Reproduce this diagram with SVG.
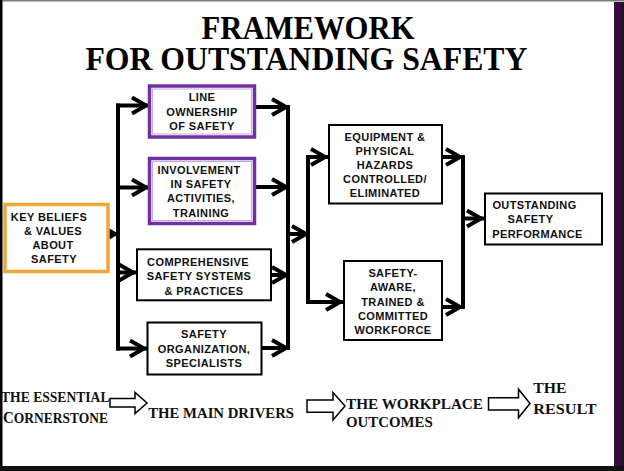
<svg xmlns="http://www.w3.org/2000/svg" width="624" height="471" viewBox="0 0 624 471">
<style>
.nt{font-family:"Liberation Sans",Arial,sans-serif;font-weight:bold;font-size:11px;letter-spacing:0.4px;fill:#111;text-anchor:middle}
.ti{font-family:"Liberation Serif","Times New Roman",serif;font-weight:bold;font-size:33px;fill:#000}
.bt{font-family:"Liberation Serif","Times New Roman",serif;font-weight:bold;font-size:15px;fill:#111}
.box{fill:#fff;stroke:#000;stroke-width:2}
.pbox{fill:#fff;stroke:#7030A0;stroke-width:3.5}
.pin{fill:none;stroke:#C4A8E0;stroke-width:1}
.obox{fill:#fff;stroke:#EFA73A;stroke-width:3.5}
.ln{fill:none;stroke:#000;stroke-width:4}
.ar{fill:none;stroke:#000;stroke-width:4;marker-end:url(#chev)}
.blk{fill:#fff;stroke:#000;stroke-width:1.5}
</style>
<defs>
<marker id="chev" viewBox="-4 -12 28 24" refX="19" refY="0" markerWidth="28" markerHeight="24" markerUnits="userSpaceOnUse" orient="auto">
<path d="M2,-8 L16,0 L2,8" fill="none" stroke="#000" stroke-width="4" stroke-linejoin="miter"/>
</marker>
</defs>
<rect x="0" y="0" width="624" height="471" fill="#fff"/>
<g id="frame">
<rect x="0" y="0" width="624" height="1.5" fill="#7a7a7a"/>
<rect x="0" y="0" width="2.5" height="471" fill="#000"/>
<rect x="614" y="2" width="7" height="469" fill="#3a0a42"/>
<rect x="621" y="2" width="3" height="469" fill="#1a1a1a"/>
<rect x="0" y="466" width="624" height="5" fill="#111"/>
</g>
<g id="title">
<text class="ti" x="308" y="39.3" text-anchor="middle" textLength="213" lengthAdjust="spacingAndGlyphs">FRAMEWORK</text>
<text class="ti" x="306.4" y="70" text-anchor="middle" textLength="442" lengthAdjust="spacingAndGlyphs">FOR OUTSTANDING SAFETY</text>
</g>
<g id="connectors">
<path class="ln" d="M118,103.5 V350.5"/>
<path class="ln" d="M288,105 V350"/>
<path class="ln" d="M308,155 V304"/>
<path class="ln" d="M463,155 V309"/>
<path class="ar" d="M108,234 H118"/>
<path class="ar" d="M116,105.5 H149"/>
<path class="ar" d="M116,187.5 H149"/>
<path class="ar" d="M116,272.5 H136"/>
<path class="ar" d="M116,348.5 H147"/>
<path class="ar" d="M256,107 H289"/>
<path class="ar" d="M256,187 H289"/>
<path class="ar" d="M272,275 H289"/>
<path class="ar" d="M262,348 H289"/>
<path class="ar" d="M288,234 H309"/>
<path class="ar" d="M306,157 H328"/>
<path class="ar" d="M306,302 H343"/>
<path class="ar" d="M443,157 H463"/>
<path class="ar" d="M443,307 H463"/>
<path class="ar" d="M461,218.5 H484"/>
</g>
<g id="key-beliefs">
<rect class="obox" x="5" y="204.5" width="103" height="67"/>
<text class="nt"><tspan x="49" y="220.7">KEY BELIEFS</tspan><tspan x="53" y="235">&amp; VALUES</tspan><tspan x="53" y="249">ABOUT</tspan><tspan x="54" y="263">SAFETY</tspan></text>
</g>
<g id="line-ownership">
<rect class="pbox" x="149.5" y="86" width="105" height="51"/>
<rect class="pin" x="152.5" y="89" width="99" height="45"/>
<text class="nt"><tspan x="202" y="101.3">LINE</tspan><tspan x="202" y="115.7">OWNERSHIP</tspan><tspan x="202" y="129.7">OF SAFETY</tspan></text>
</g>
<g id="involvement">
<rect class="pbox" x="149.5" y="158.5" width="105" height="65"/>
<rect class="pin" x="152.5" y="161.5" width="99" height="59"/>
<text class="nt"><tspan x="199" y="173.5">INVOLVEMENT</tspan><tspan x="201" y="187.8">IN SAFETY</tspan><tspan x="201" y="202">ACTIVITIES,</tspan><tspan x="201" y="216.8">TRAINING</tspan></text>
</g>
<g id="comprehensive">
<rect class="box" x="137" y="249.3" width="134" height="51"/>
<text class="nt"><tspan x="198" y="265.7">COMPREHENSIVE</tspan><tspan x="199" y="280">SAFETY SYSTEMS</tspan><tspan x="204" y="295">&amp; PRACTICES</tspan></text>
</g>
<g id="safety-organization">
<rect class="box" x="147.5" y="322.5" width="114" height="52"/>
<text class="nt"><tspan x="204" y="338.3">SAFETY</tspan><tspan x="204" y="352.7">ORGANIZATION,</tspan><tspan x="204" y="366.7">SPECIALISTS</tspan></text>
</g>
<g id="equipment">
<rect class="box" x="329" y="125" width="113" height="78.5"/>
<text class="nt"><tspan x="385" y="140.7">EQUIPMENT &amp;</tspan><tspan x="385" y="155">PHYSICAL</tspan><tspan x="385" y="169">HAZARDS</tspan><tspan x="385" y="183.3">CONTROLLED/</tspan><tspan x="385" y="197.3">ELIMINATED</tspan></text>
</g>
<g id="workforce">
<rect class="box" x="344" y="261" width="98" height="79"/>
<text class="nt"><tspan x="393" y="277.3">SAFETY-</tspan><tspan x="393" y="291.3">AWARE,</tspan><tspan x="393" y="305.7">TRAINED &amp;</tspan><tspan x="393" y="319.7">COMMITTED</tspan><tspan x="393" y="334">WORKFORCE</tspan></text>
</g>
<g id="outstanding">
<rect class="box" x="485" y="193.5" width="117" height="51"/>
<text class="nt"><tspan x="534.5" y="209">OUTSTANDING</tspan><tspan x="530.5" y="223.3">SAFETY</tspan><tspan x="537.5" y="238">PERFORMANCE</tspan></text>
</g>
<g id="stages">
<polygon class="blk" points="110,398.5 135,398.5 135,392.5 147,403 135,413.5 135,407 110,407"/>
<polygon class="blk" points="307,400 333,400 333,392.5 345,406 333,420 333,412.3 307,412.3"/>
<polygon class="blk" points="488.5,397.7 518.5,397.7 518.5,389.2 530,403.5 518.5,417.8 518.5,410 488.5,410"/>
<text class="bt" x="1" y="401.7" font-size="13.5" textLength="108.5" lengthAdjust="spacingAndGlyphs">THE ESSENTIAL</text>
<text class="bt" x="3" y="422.7" font-size="13" textLength="105" lengthAdjust="spacingAndGlyphs"><tspan font-size="16.5">C</tspan>ORNERSTONE</text>
<text class="bt" x="148.3" y="417.7" textLength="145.7" lengthAdjust="spacingAndGlyphs">THE MAIN DRIVERS</text>
<text class="bt" x="346" y="409" textLength="137" lengthAdjust="spacingAndGlyphs">THE WORKPLACE</text>
<text class="bt" x="346" y="426.7" textLength="86.7" lengthAdjust="spacingAndGlyphs">OUTCOMES</text>
<text class="bt" x="533.3" y="393.3" font-size="15.5" textLength="33.3" lengthAdjust="spacingAndGlyphs">THE</text>
<text class="bt" x="533.3" y="414.3" font-size="15.5" textLength="63.3" lengthAdjust="spacingAndGlyphs">RESULT</text>
</g>
</svg>
